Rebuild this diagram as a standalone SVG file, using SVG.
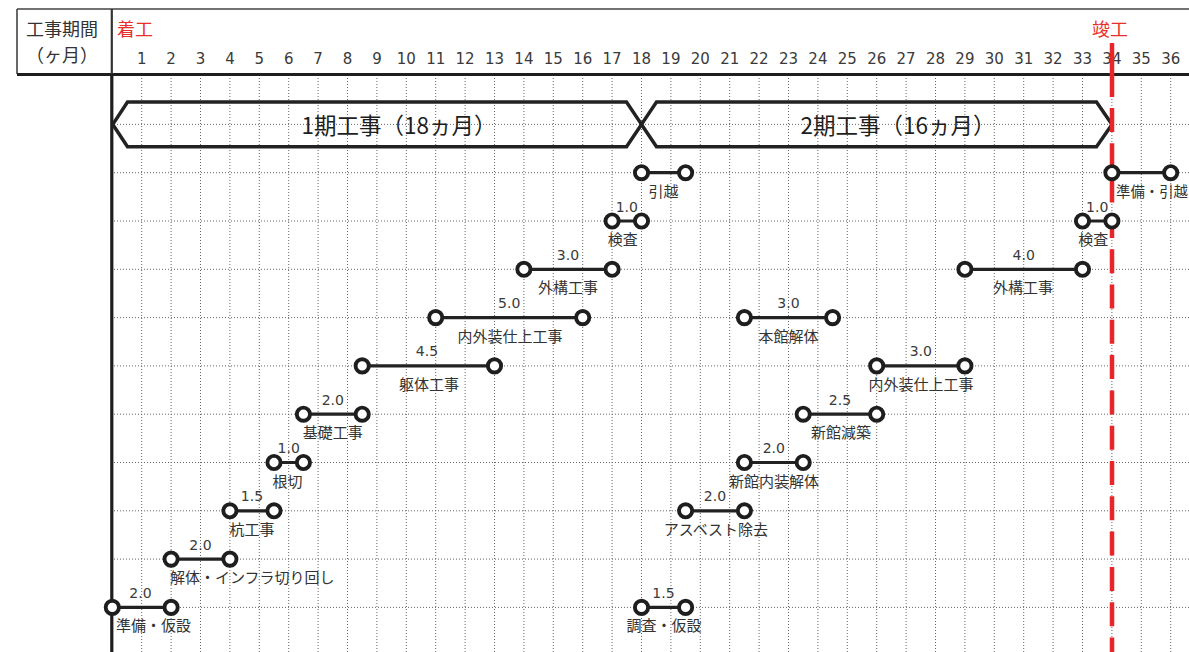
<svg xmlns="http://www.w3.org/2000/svg" width="1189" height="652" viewBox="0 0 1189 652">
<defs>
<style>
.jp{font-family:"Noto Sans CJK JP","Noto Sans",sans-serif;}
.num{font-family:"DejaVu Sans","Liberation Sans",sans-serif;fill:#3a3a3a;}
.hdr{font-size:18px;fill:#333;text-anchor:middle;}
.red{font-size:18px;fill:#e8302a;}
.mon{font-size:15px;text-anchor:middle;}
.dur{font-size:14px;text-anchor:middle;}
.lbl{font-size:15px;fill:#333;text-anchor:middle;}
.lbs{font-size:15px;fill:#333;}
.ph{font-size:22.5px;fill:#1e1e1e;text-anchor:middle;}
.dot{fill:none;stroke:#666;stroke-width:1;stroke-dasharray:1 2;}
.arrow{fill:none;stroke:#222;stroke-width:3.5;stroke-linejoin:miter;}
.bar{stroke:#222;stroke-width:3.2;}
.ms{fill:#fff;stroke:#1e1e1e;stroke-width:3.9;}
</style>
</defs>
<rect width="1189" height="652" fill="#fff"/>

<g id="grid">
<path class="dot" d="M141.7 78V652M171.1 78V652M200.5 78V652M229.9 78V652M259.3 78V652M288.7 78V652M318.1 78V652M347.5 78V652M376.9 78V652M406.3 78V652M435.7 78V652M465.1 78V652M494.5 78V652M523.9 78V652M553.3 78V652M582.7 78V652M612.1 78V652M641.5 78V652M670.9 78V652M700.3 78V652M729.7 78V652M759.1 78V652M788.5 78V652M817.9 78V652M847.3 78V652M876.7 78V652M906.1 78V652M935.5 78V652M964.9 78V652M994.3 78V652M1023.7 78V652M1053.1 78V652M1082.5 78V652M1111.9 78V652M1141.3 78V652M1170.7 78V652"/>
<path class="dot" d="M114 124.4H1189M114 172.7H1189M114 221H1189M114 269.3H1189M114 317.6H1189M114 365.9H1189M114 414.2H1189M114 462.5H1189M114 510.8H1189M114 559.1H1189M114 607.4H1189"/>
</g>

<g id="frame">
<path d="M17 9H1189M17 9V74" fill="none" stroke="#444" stroke-width="1.6"/>
<path d="M17 74.5H1189" stroke="#1e1e1e" stroke-width="3.2"/>
<path d="M111.8 9V74" stroke="#333" stroke-width="2.2"/>
<path d="M111.8 74V652" stroke="#1e1e1e" stroke-width="3.2"/>
</g>

<g id="header">
<text class="jp hdr" x="62" y="36">工事期間</text>
<text class="jp hdr" x="62" y="62">（ヶ月）</text>
<text class="jp red" x="117" y="36">着工</text>
<text class="jp red" x="1092" y="36">竣工</text>
<g class="num mon">
<text x="141.7" y="64">1</text><text x="171.1" y="64">2</text><text x="200.5" y="64">3</text><text x="229.9" y="64">4</text><text x="259.3" y="64">5</text><text x="288.7" y="64">6</text><text x="318.1" y="64">7</text><text x="347.5" y="64">8</text><text x="376.9" y="64">9</text><text x="406.3" y="64">10</text><text x="435.7" y="64">11</text><text x="465.1" y="64">12</text><text x="494.5" y="64">13</text><text x="523.9" y="64">14</text><text x="553.3" y="64">15</text><text x="582.7" y="64">16</text><text x="612.1" y="64">17</text><text x="641.5" y="64">18</text><text x="670.9" y="64">19</text><text x="700.3" y="64">20</text><text x="729.7" y="64">21</text><text x="759.1" y="64">22</text><text x="788.5" y="64">23</text><text x="817.9" y="64">24</text><text x="847.3" y="64">25</text><text x="876.7" y="64">26</text><text x="906.1" y="64">27</text><text x="935.5" y="64">28</text><text x="964.9" y="64">29</text><text x="994.3" y="64">30</text><text x="1023.7" y="64">31</text><text x="1053.1" y="64">32</text><text x="1082.5" y="64">33</text><text x="1111.9" y="64">34</text><text x="1141.3" y="64">35</text><text x="1170.7" y="64">36</text>
</g>
</g>

<g id="phase1">
<path class="arrow" d="M127.5 102H626.5L641.5 124.4L626.5 146.8H127.5L112.8 124.4Z"/>
<text class="jp ph" x="399" y="133.5">1期工事（18ヵ月）</text>
</g>
<g id="phase2">
<path class="arrow" d="M641.5 124.4L656.5 102H1096.5L1112 124.4L1096.5 146.8H656.5Z"/>
<text class="jp ph" x="898" y="133.5">2期工事（16ヵ月）</text>
</g>

<g id="completion-line" stroke="#e8262a" stroke-width="4.5" fill="none">
<path d="M1112 43V97"/>
<path d="M1112 108V652" stroke-dasharray="24 11.3"/>
</g>

<g id="connectors">
<path class="bar" d="M641.5 172.7H685.6M1111.9 172.7H1170.7M612.1 221H641.5M1082.5 221H1111.9M523.9 269.3H612.1M964.9 269.3H1082.5M435.7 317.6H582.7M744.4 317.6H832.6M362.2 365.9H494.5M876.7 365.9H964.9M303.4 414.2H362.2M803.2 414.2H876.7M274 462.5H303.4M744.4 462.5H803.2M229.9 510.8H274M685.6 510.8H744.4M171.1 559.1H229.9M112.3 607.4H171.1M641.5 607.4H685.6"/>
</g>

<g id="t-hikkoshi1">
<circle class="ms" cx="641.5" cy="172.7" r="6.6"/><circle class="ms" cx="685.6" cy="172.7" r="6.6"/>
<text class="jp lbl" x="663.5" y="196.7">引越</text>
</g>
<g id="t-junbi-hikkoshi">
<circle class="ms" cx="1111.9" cy="172.7" r="6.6"/><circle class="ms" cx="1170.7" cy="172.7" r="6.6"/>
<text class="jp lbs" x="1116" y="196.7" style="font-size:14.4px">準備・引越</text>
</g>
<g id="t-kensa1">
<circle class="ms" cx="612.1" cy="221" r="6.6"/><circle class="ms" cx="641.5" cy="221" r="6.6"/>
<text class="num dur" x="626.8" y="211.5">1.0</text>
<text class="jp lbl" x="622.8" y="245">検査</text>
</g>
<g id="t-kensa2">
<circle class="ms" cx="1082.5" cy="221" r="6.6"/><circle class="ms" cx="1111.9" cy="221" r="6.6"/>
<text class="num dur" x="1097.2" y="211.5">1.0</text>
<text class="jp lbl" x="1093.2" y="245">検査</text>
</g>
<g id="t-gaiko1">
<circle class="ms" cx="523.9" cy="269.3" r="6.6"/><circle class="ms" cx="612.1" cy="269.3" r="6.6"/>
<text class="num dur" x="568" y="259.8">3.0</text>
<text class="jp lbl" x="568" y="293.3">外構工事</text>
</g>
<g id="t-gaiko2">
<circle class="ms" cx="964.9" cy="269.3" r="6.6"/><circle class="ms" cx="1082.5" cy="269.3" r="6.6"/>
<text class="num dur" x="1023.7" y="259.8">4.0</text>
<text class="jp lbl" x="1023" y="293.3">外構工事</text>
</g>
<g id="t-naigaiso1">
<circle class="ms" cx="435.7" cy="317.6" r="6.6"/><circle class="ms" cx="582.7" cy="317.6" r="6.6"/>
<text class="num dur" x="509.2" y="308.1">5.0</text>
<text class="jp lbl" x="510" y="341.6">内外装仕上工事</text>
</g>
<g id="t-honkan">
<circle class="ms" cx="744.4" cy="317.6" r="6.6"/><circle class="ms" cx="832.6" cy="317.6" r="6.6"/>
<text class="num dur" x="788.5" y="308.1">3.0</text>
<text class="jp lbl" x="788.5" y="341.6">本館解体</text>
</g>
<g id="t-kutai">
<circle class="ms" cx="362.2" cy="365.9" r="6.6"/><circle class="ms" cx="494.5" cy="365.9" r="6.6"/>
<text class="num dur" x="427" y="356.4">4.5</text>
<text class="jp lbl" x="429" y="389.9">躯体工事</text>
</g>
<g id="t-naigaiso2">
<circle class="ms" cx="876.7" cy="365.9" r="6.6"/><circle class="ms" cx="964.9" cy="365.9" r="6.6"/>
<text class="num dur" x="920.8" y="356.4">3.0</text>
<text class="jp lbl" x="921" y="389.9">内外装仕上工事</text>
</g>
<g id="t-kiso">
<circle class="ms" cx="303.4" cy="414.2" r="6.6"/><circle class="ms" cx="362.2" cy="414.2" r="6.6"/>
<text class="num dur" x="332.8" y="404.7">2.0</text>
<text class="jp lbl" x="332.8" y="438.2">基礎工事</text>
</g>
<g id="t-genchiku">
<circle class="ms" cx="803.2" cy="414.2" r="6.6"/><circle class="ms" cx="876.7" cy="414.2" r="6.6"/>
<text class="num dur" x="840" y="404.7">2.5</text>
<text class="jp lbl" x="841" y="438.2">新館減築</text>
</g>
<g id="t-negiri">
<circle class="ms" cx="274" cy="462.5" r="6.6"/><circle class="ms" cx="303.4" cy="462.5" r="6.6"/>
<text class="num dur" x="288.7" y="453">1.0</text>
<text class="jp lbl" x="287.5" y="486.5">根切</text>
</g>
<g id="t-shinkan-naiso">
<circle class="ms" cx="744.4" cy="462.5" r="6.6"/><circle class="ms" cx="803.2" cy="462.5" r="6.6"/>
<text class="num dur" x="773.8" y="453">2.0</text>
<text class="jp lbl" x="774" y="486.5">新館内装解体</text>
</g>
<g id="t-kui">
<circle class="ms" cx="229.9" cy="510.8" r="6.6"/><circle class="ms" cx="274" cy="510.8" r="6.6"/>
<text class="num dur" x="252" y="501.3">1.5</text>
<text class="jp lbl" x="252" y="534.8">杭工事</text>
</g>
<g id="t-asbestos">
<circle class="ms" cx="685.6" cy="510.8" r="6.6"/><circle class="ms" cx="744.4" cy="510.8" r="6.6"/>
<text class="num dur" x="715" y="501.3">2.0</text>
<text class="jp lbl" x="716" y="534.8">アスベスト除去</text>
</g>
<g id="t-kaitai-infra">
<circle class="ms" cx="171.1" cy="559.1" r="6.6"/><circle class="ms" cx="229.9" cy="559.1" r="6.6"/>
<text class="num dur" x="200.5" y="549.6">2.0</text>
<text class="jp lbs" x="170" y="583.1">解体・インフラ切り回し</text>
</g>
<g id="t-junbi-kasetsu">
<circle class="ms" cx="112.3" cy="607.4" r="6.6"/><circle class="ms" cx="171.1" cy="607.4" r="6.6"/>
<text class="num dur" x="140.5" y="597.9">2.0</text>
<text class="jp lbs" x="116" y="631.4">準備・仮設</text>
</g>
<g id="t-chosa-kasetsu">
<circle class="ms" cx="641.5" cy="607.4" r="6.6"/><circle class="ms" cx="685.6" cy="607.4" r="6.6"/>
<text class="num dur" x="663.5" y="597.9">1.5</text>
<text class="jp lbl" x="664" y="631.4">調査・仮設</text>
</g>
</svg>
